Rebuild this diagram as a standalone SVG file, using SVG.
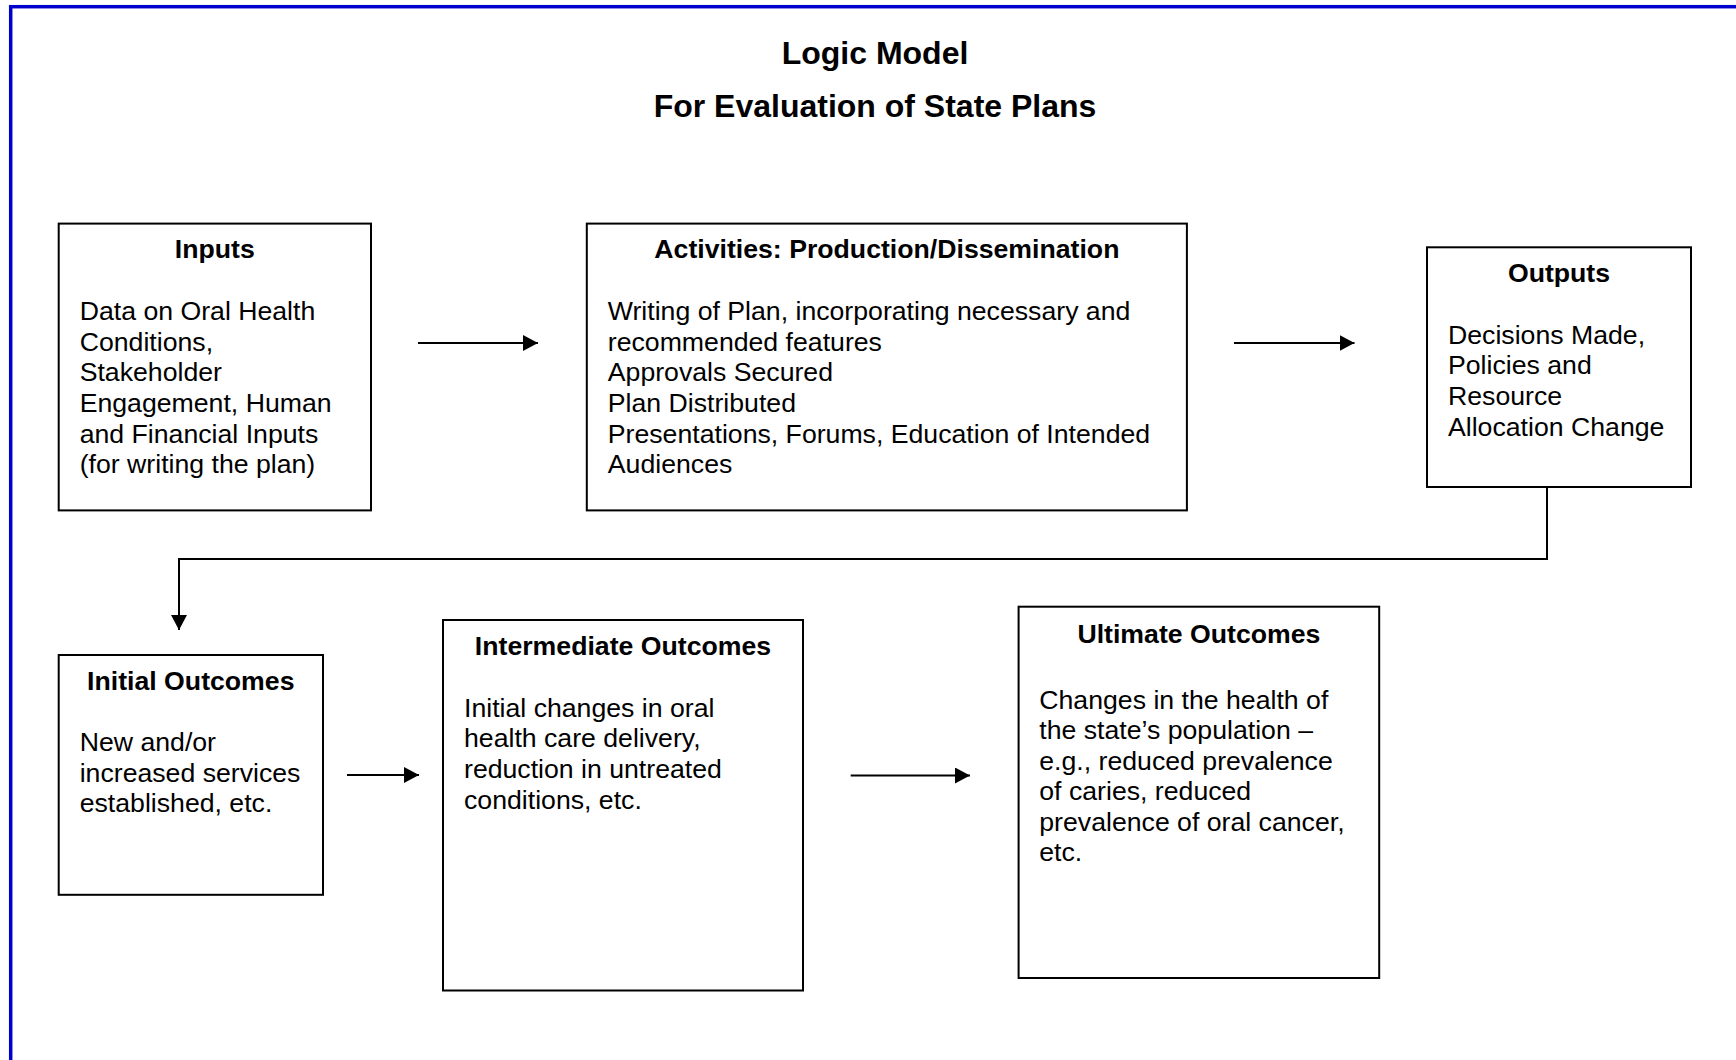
<svg xmlns="http://www.w3.org/2000/svg" width="1736" height="1060" viewBox="0 0 1736 1060">
<defs>
<marker id="ah" viewBox="0 0 15 16" refX="15" refY="8" markerWidth="15" markerHeight="16" markerUnits="userSpaceOnUse" orient="auto">
<path d="M0,0 L15,8 L0,16 Z" fill="#000"/>
</marker>
<style>
.box{fill:#fff;stroke:#000;stroke-width:2}
.hd{font-family:"Liberation Sans",Arial,sans-serif;font-weight:bold;font-size:26.67px;text-anchor:middle;fill:#000}
.bd{font-family:"Liberation Sans",Arial,sans-serif;font-size:26.67px;fill:#000}
.ttl{font-family:"Liberation Sans",Arial,sans-serif;font-weight:bold;font-size:32px;text-anchor:middle;fill:#000}
.cn{fill:none;stroke:#000;stroke-width:2}
</style>
</defs>
<rect width="1736" height="1060" fill="#fff"/>
<rect id="frame" x="10.7" y="6.7" width="1760" height="1100" fill="none" stroke="#0000cc" stroke-width="3.5"/>
<g id="title">
<text class="ttl" x="875" y="64">Logic Model</text>
<text class="ttl" x="875" y="116.5">For Evaluation of State Plans</text>
</g>
<g id="inputs">
<rect class="box" x="58.7" y="223.6" width="312.3" height="286.8"/>
<text class="hd" x="214.8" y="258">Inputs</text>
<text class="bd" x="79.7" y="320">Data on Oral Health</text>
<text class="bd" x="79.7" y="350.7">Conditions,</text>
<text class="bd" x="79.7" y="381.3">Stakeholder</text>
<text class="bd" x="79.7" y="412">Engagement, Human</text>
<text class="bd" x="79.7" y="442.7">and Financial Inputs</text>
<text class="bd" x="79.7" y="473.3">(for writing the plan)</text>
</g>
<g id="activities">
<rect class="box" x="586.8" y="223.6" width="600.1" height="286.8"/>
<text class="hd" x="886.9" y="258">Activities: Production/Dissemination</text>
<text class="bd" x="607.8" y="320">Writing of Plan, incorporating necessary and</text>
<text class="bd" x="607.8" y="350.7">recommended features</text>
<text class="bd" x="607.8" y="381.3">Approvals Secured</text>
<text class="bd" x="607.8" y="412">Plan Distributed</text>
<text class="bd" x="607.8" y="442.7">Presentations, Forums, Education of Intended</text>
<text class="bd" x="607.8" y="473.3">Audiences</text>
</g>
<g id="outputs">
<rect class="box" x="1427" y="247.3" width="264" height="239.7"/>
<text class="hd" x="1559" y="281.7">Outputs</text>
<text class="bd" x="1448" y="343.5">Decisions Made,</text>
<text class="bd" x="1448" y="374.2">Policies and</text>
<text class="bd" x="1448" y="404.8">Resource</text>
<text class="bd" x="1448" y="435.5">Allocation Change</text>
</g>
<g id="initial">
<rect class="box" x="58.7" y="655" width="264.3" height="239.8"/>
<text class="hd" x="190.8" y="690">Initial Outcomes</text>
<text class="bd" x="79.7" y="751">New and/or</text>
<text class="bd" x="79.7" y="781.7">increased services</text>
<text class="bd" x="79.7" y="812.3">established, etc.</text>
</g>
<g id="intermediate">
<rect class="box" x="443" y="620" width="360" height="370.5"/>
<text class="hd" x="623" y="655">Intermediate Outcomes</text>
<text class="bd" x="464" y="716.5">Initial changes in oral</text>
<text class="bd" x="464" y="747.2">health care delivery,</text>
<text class="bd" x="464" y="777.8">reduction in untreated</text>
<text class="bd" x="464" y="808.5">conditions, etc.</text>
</g>
<g id="ultimate">
<rect class="box" x="1018.6" y="606.7" width="360.6" height="371.3"/>
<text class="hd" x="1198.9" y="642.7">Ultimate Outcomes</text>
<text class="bd" x="1039.3" y="708.5">Changes in the health of</text>
<text class="bd" x="1039.3" y="739">the state’s population –</text>
<text class="bd" x="1039.3" y="769.5">e.g., reduced prevalence</text>
<text class="bd" x="1039.3" y="800">of caries, reduced</text>
<text class="bd" x="1039.3" y="830.5">prevalence of oral cancer,</text>
<text class="bd" x="1039.3" y="861">etc.</text>
</g>
<g id="connectors">
<line class="cn" x1="418" y1="343" x2="538" y2="343" marker-end="url(#ah)"/>
<line class="cn" x1="1234" y1="343" x2="1354.5" y2="343" marker-end="url(#ah)"/>
<polyline class="cn" points="1547,487 1547,559 179,559 179,630" marker-end="url(#ah)"/>
<line class="cn" x1="347" y1="775" x2="419" y2="775" marker-end="url(#ah)"/>
<line class="cn" x1="850.7" y1="775.5" x2="970" y2="775.5" marker-end="url(#ah)"/>
</g>
</svg>
